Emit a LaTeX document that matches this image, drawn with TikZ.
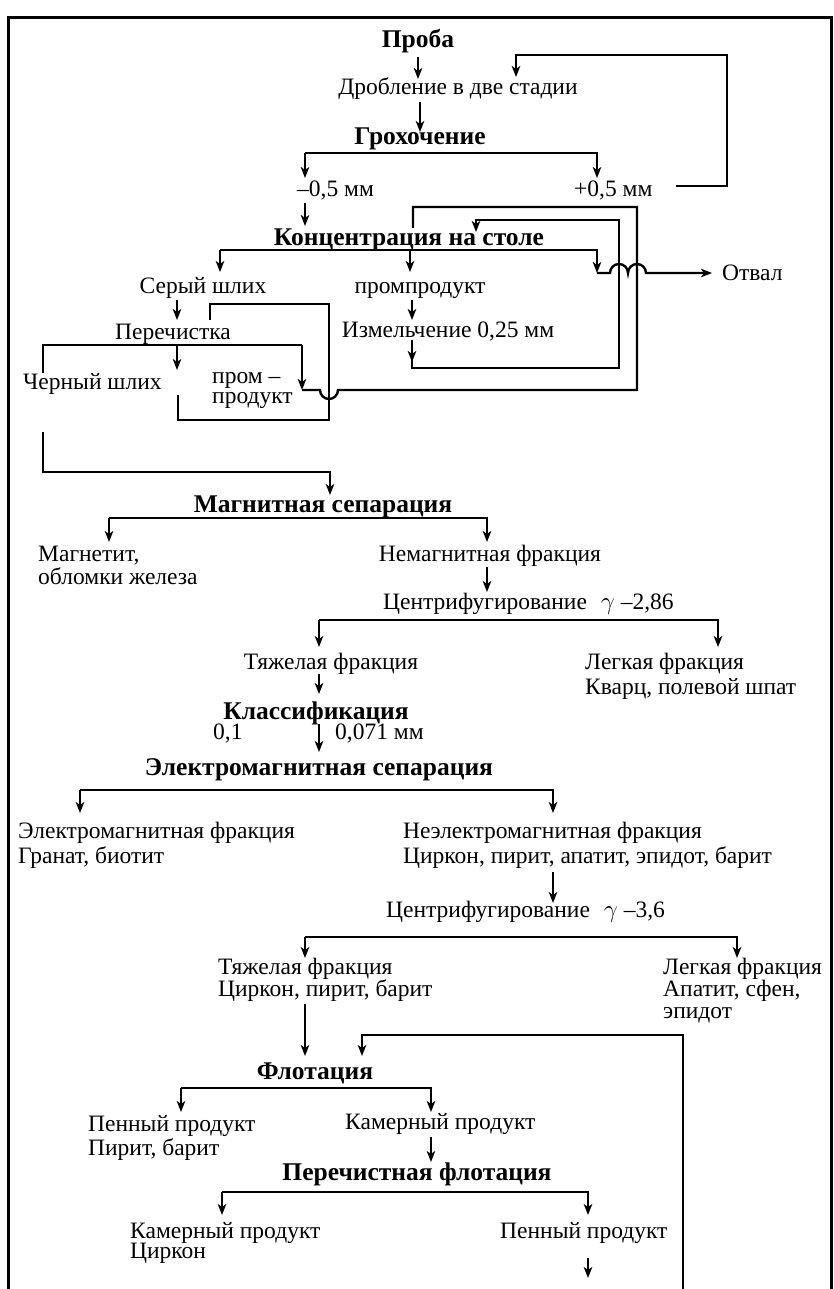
\documentclass[tikz,border=0pt]{standalone}
\usepackage{fontspec}
\setmainfont{Liberation Serif}
\usetikzlibrary{arrows.meta}
\begin{document}
\begin{tikzpicture}[x=1pt,y=-1pt,
  ln/.style={line width=2.4pt},
  arr/.style={line width=2.4pt,-{Stealth[length=11pt,width=8.5pt,inset=3pt]}},
  t/.style={inner sep=0pt,font=\fontsize{23.5}{27}\selectfont},
  b/.style={inner sep=0pt,font=\fontsize{25.5}{29}\selectfont\bfseries}]
\useasboundingbox (0,0) rectangle (834,1289);
% frame
\draw[line width=3pt] (8,1289) -- (8,18) -- (831,18) -- (831,1289);
% ---------- texts ----------
\node[b,anchor=base] (proba) at (418,48) {Проба};
\node[t,anchor=base] (drob) at (458,95) {Дробление в две стадии};
\node[b,anchor=base] (grox) at (420,145) {Грохочение};
\node[t,anchor=base west] (m05) at (297,197) {–0,5 мм};
\node[t,anchor=base west] (p05) at (574,197) {+0,5 мм};
\node[b,anchor=base] (conc) at (409,245) {Концентрация на столе};
\node[t,anchor=base] (sery) at (203,293) {Серый шлих};
\node[t,anchor=base] (promp) at (420,293) {промпродукт};
\node[t,anchor=base west] (otval) at (722,280) {Отвал};
\node[t,anchor=base] (perech) at (173,339) {Перечистка};
\node[t,anchor=base] (izmel) at (448,337) {Измельчение 0,25 мм};
\node[t,anchor=base west] (cherny) at (23,389) {Черный шлих};
\node[t,anchor=base west] (prom1) at (212,383) {пром –};
\node[t,anchor=base west] (prom2) at (212,403) {продукт};
\node[b,anchor=base] (magn) at (323,512) {Магнитная сепарация};
\node[t,anchor=base west] (magnetit) at (38,561) {Магнетит,};
\node[t,anchor=base west] (oblomki) at (38,584) {обломки железа};
\node[t,anchor=base] (nemagn) at (490,561) {Немагнитная фракция};
\node[t,anchor=base west] (centr1) at (383,609) {Центрифугирование\hspace{14pt}$\gamma$ –2,86};
\node[t,anchor=base] (tyazh1) at (331,669) {Тяжелая фракция};
\node[t,anchor=base west] (legk1) at (585,669) {Легкая фракция};
\node[t,anchor=base west] (kvarc) at (585,694) {Кварц, полевой шпат};
\node[b,anchor=base] (klass) at (316,719) {Классификация};
\node[t,anchor=base west] (n01) at (213,739) {0,1};
\node[t,anchor=base west] (n0071) at (335,739) {0,071 мм};
\node[b,anchor=base] (emsep) at (319,775) {Электромагнитная сепарация};
\node[t,anchor=base west] (emfr) at (18,838) {Электромагнитная фракция};
\node[t,anchor=base west] (granat) at (18,863) {Гранат, биотит};
\node[t,anchor=base west] (neem) at (403,838) {Неэлектромагнитная фракция};
\node[t,anchor=base west] (cirk1) at (403,863) {Циркон, пирит, апатит, эпидот, барит};
\node[t,anchor=base west] (centr2) at (386,917) {Центрифугирование\hspace{14pt}$\gamma$ –3,6};
\node[t,anchor=base west] (tyazh2) at (218,974) {Тяжелая фракция};
\node[t,anchor=base west] (cirk2) at (218,996) {Циркон, пирит, барит};
\node[t,anchor=base west] (legk2) at (663,974) {Легкая фракция};
\node[t,anchor=base west] (apat) at (663,996) {Апатит, сфен,};
\node[t,anchor=base west] (epid) at (663,1018) {эпидот};
\node[b,anchor=base] (flot) at (315,1079) {Флотация};
\node[t,anchor=base west] (pen1) at (88,1131) {Пенный продукт};
\node[t,anchor=base west] (pirit) at (88,1155) {Пирит, барит};
\node[t,anchor=base west] (kam1) at (345,1129) {Камерный продукт};
\node[b,anchor=base] (perflot) at (417,1180) {Перечистная флотация};
\node[t,anchor=base west] (kam2) at (130,1238) {Камерный продукт};
\node[t,anchor=base west] (cirk3) at (130,1258) {Циркон};
\node[t,anchor=base west] (pen2) at (500,1238) {Пенный продукт};
% ---------- connectors ----------
% top
\draw[arr] (418,57) -- (418,79);
\draw[arr] (676,186) -- (727,186) -- (727,55) -- (516,55) -- (516,77);
\draw[arr] (420,102) -- (420,132);
\draw[arr] (305,153) -- (305,178);
\draw[arr] (305,153) -- (597,153) -- (597,178);
\draw[arr] (305,203) -- (305,226);
% concentration table
\draw[arr] (220,250) -- (220,272);
\draw[arr] (410,250) -- (410,272);
\draw[arr] (220,250) -- (597,250) -- (597,273);
\draw[arr] (597,273) -- (610,273) arc[start angle=180,end angle=0,radius=9pt]
  -- (628,273) arc[start angle=180,end angle=0,radius=9pt] -- (712,273);
% grinding loop
\draw[arr] (412,300) -- (412,320);
\draw[arr] (412,340) -- (412,362);
\draw[arr] (412,360) -- (412,368) -- (619,368) -- (619,220) -- (476,220) -- (476,232);
% cleaning
\draw[arr] (177,300) -- (177,320);
\draw[ln] (43,373) -- (43,345) -- (302,345);
\draw[arr] (177,345) -- (177,370);
\draw[arr] (302,345) -- (302,390);
\draw[ln] (210,320) -- (210,304) -- (329,304) -- (329,420) -- (178,420) -- (178,395);
\draw[ln] (302,390) -- (320,390) arc[start angle=180,end angle=360,radius=9pt]
  -- (637,390) -- (637,207) -- (413,207) -- (413,228);
% black concentrate to magnetic separation
\draw[arr] (43,432) -- (43,472) -- (330,472) -- (330,495);
\draw[arr] (109,518) -- (109,542);
\draw[arr] (109,518) -- (487,518) -- (487,542);
\draw[arr] (487,567) -- (487,592);
\draw[arr] (319,620) -- (319,647);
\draw[arr] (319,620) -- (718,620) -- (718,647);
\draw[arr] (319,674) -- (319,694);
\draw[arr] (319,724) -- (319,752);
\draw[arr] (80,790) -- (80,813);
\draw[arr] (80,790) -- (553,790) -- (553,813);
\draw[arr] (553,872) -- (553,903);
\draw[arr] (305,937) -- (305,958);
\draw[arr] (305,937) -- (737,937) -- (737,958);
\draw[arr] (305,1004) -- (305,1056);
\draw[arr] (683,1289) -- (683,1035) -- (362,1035) -- (362,1056);
\draw[arr] (181,1088) -- (181,1112);
\draw[arr] (181,1088) -- (431,1088) -- (431,1112);
\draw[arr] (431,1137) -- (431,1162);
\draw[arr] (222,1192) -- (222,1215);
\draw[arr] (222,1192) -- (588,1192) -- (588,1215);
\draw[arr] (588,1258) -- (588,1278);
\end{tikzpicture}
\end{document}
